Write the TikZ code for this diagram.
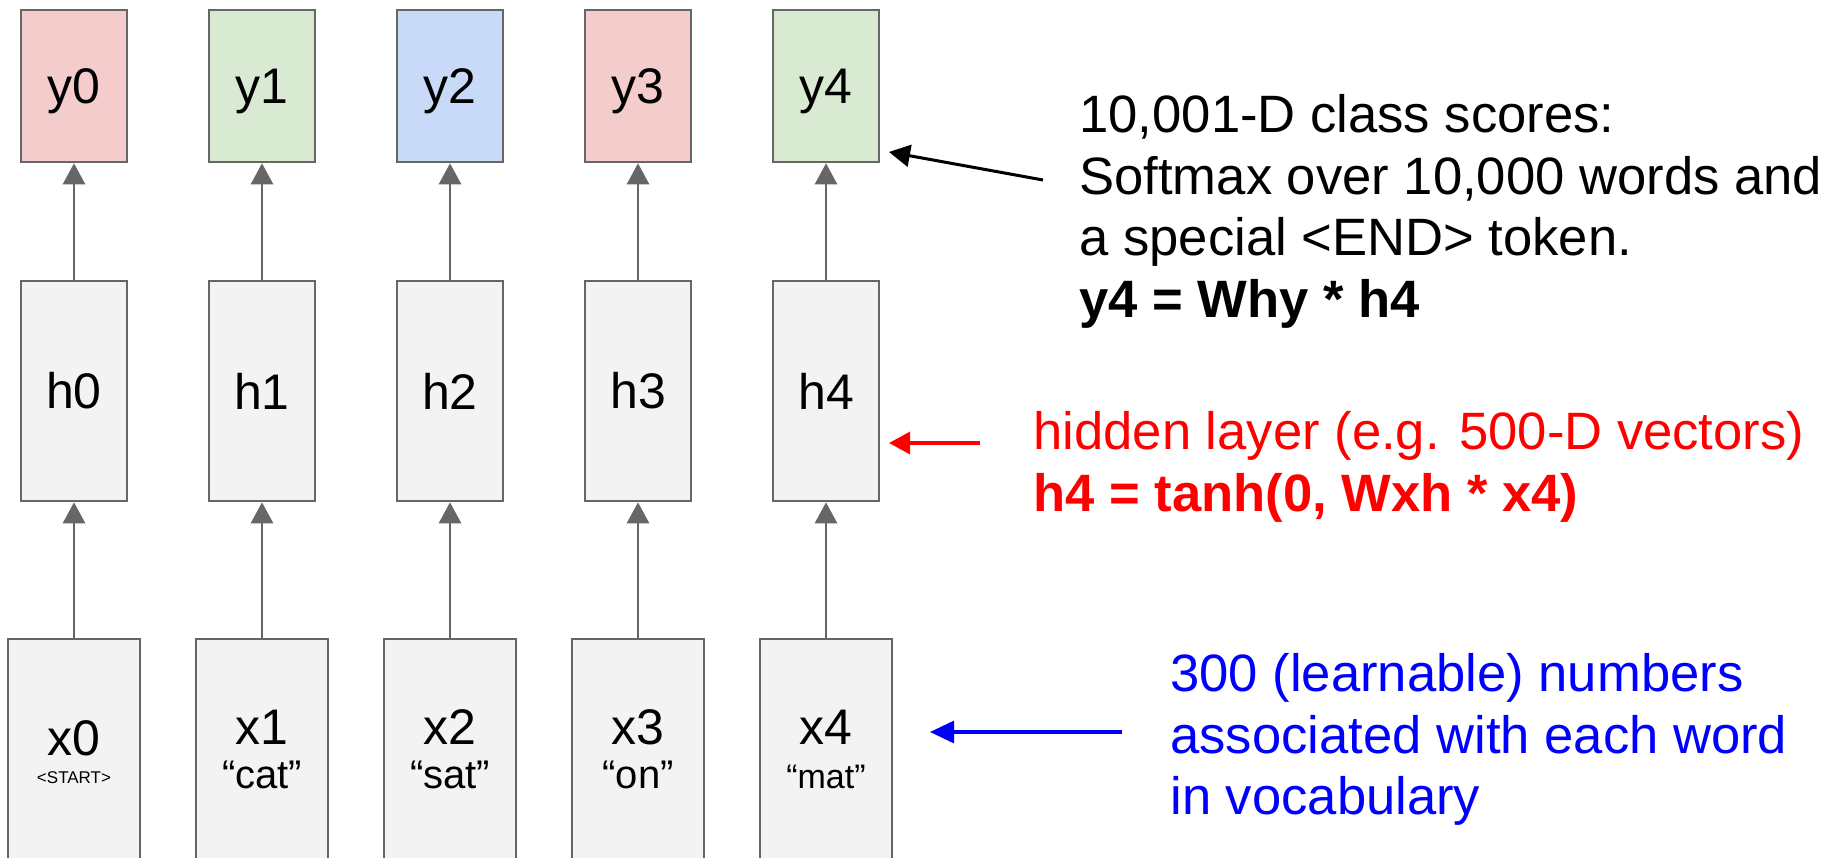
\documentclass[tikz,border=0pt]{standalone}
\usepackage{fontspec}
\setmainfont{Liberation Sans}
\usetikzlibrary{arrows.meta}
\definecolor{cellline}{HTML}{666666}
\definecolor{cellgray}{HTML}{F3F3F3}
\definecolor{cellpink}{HTML}{F4CCCC}
\definecolor{cellgreen}{HTML}{D9EAD3}
\definecolor{cellblue}{HTML}{C9DAF8}
\tikzset{
  cell/.style={draw=cellline,line width=1.3pt,inner sep=0pt,minimum width=53pt,
    align=center,font=\fontsize{25}{22}\selectfont},
  ycell/.style={cell,minimum height=76pt,text depth=0pt},
  hcell/.style={cell,fill=cellgray,minimum height=110pt},
  xcell/.style={cell,fill=cellgray,minimum height=110pt,minimum width=66pt},
  feed/.style={draw=cellline,line width=1.35pt,-{Triangle[length=10.5pt,width=11pt]}},
  note/.style={anchor=north west,inner sep=0pt,align=left,
    font=\fontsize{26.3}{30.75}\selectfont},
}
\begin{document}
\begin{tikzpicture}[x=0.5pt,y=-0.5pt]
  \useasboundingbox (0,0) rectangle (1840,857);
  \clip (0,0) rectangle (1840,857);
  % outputs and hidden states
  \foreach \i/\c in {0/cellpink,1/cellgreen,2/cellblue,3/cellpink,4/cellgreen}{
    \node[ycell,fill=\c] (y\i) at (74+188*\i,86) {y\i};
    \node[hcell] (h\i) at (74+188*\i,391) {h\i};
    \draw[feed] (h\i) -- (y\i);
  }
  % inputs
  \node[xcell] (x0) at (74,749) {\rule{0pt}{21pt}x0\\[-8pt]{\fontsize{8.5}{10}\selectfont <START>}};
  \node[xcell] (x1) at (262,749) {x1\\{\fontsize{20}{22}\selectfont ``cat''}};
  \node[xcell] (x2) at (450,749) {x2\\{\fontsize{20}{22}\selectfont ``sat''}};
  \node[xcell] (x3) at (638,749) {x3\\{\fontsize{20}{22}\selectfont ``on''}};
  \node[xcell] (x4) at (826,749) {x4\\{\fontsize{17}{22}\selectfont ``mat''}};
  \foreach \i in {0,...,4} \draw[feed] (x\i) -- (h\i);
  % notes
  \node[note] (scores) at (1079,94) {10,001-D class scores:\\Softmax over 10,000 words and\\a special <END> token.\\\textbf{y4 = Why * h4}};
  \coordinate (scoresfrom) at (1043,180);
  \coordinate (scoresto) at (889,152);
  \draw[line width=1.5pt,-{Triangle[length=10.5pt,width=11pt]}] (scoresfrom) -- (scoresto);
  \node[note,text=red] (hidden) at (1033,411) {hidden layer (e.g. 500-D vectors)\\\textbf{h4 = tanh(0, Wxh * x4)}};
  \coordinate (hiddenfrom) at (980,443);
  \coordinate (hiddento) at (889,443);
  \draw[red,line width=1.6pt,-{Triangle[length=10.5pt,width=11pt]}] (hiddenfrom) -- (hiddento);
  \node[note,text=blue] (embed) at (1170,653) {300 (learnable) numbers\\associated with each word\\in vocabulary};
  \coordinate (embedfrom) at (1122,732);
  \coordinate (embedto) at (930,732);
  \draw[blue,line width=1.6pt,-{Triangle[length=12pt,width=11pt]}] (embedfrom) -- (embedto);
\end{tikzpicture}
\end{document}
